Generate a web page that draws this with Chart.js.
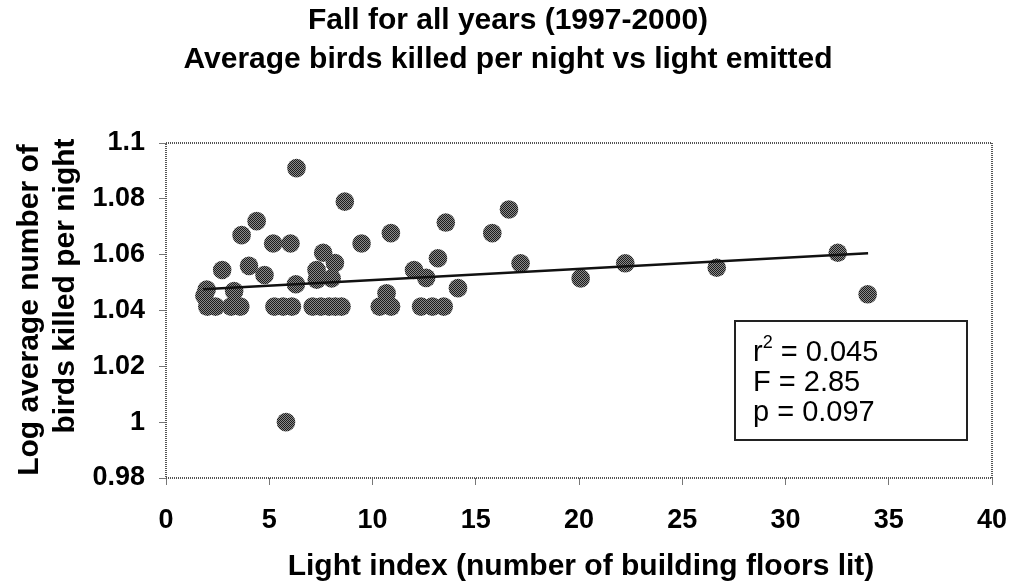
<!DOCTYPE html>
<html>
<head>
<meta charset="utf-8">
<script src="https://cdn.jsdelivr.net/npm/chart.js@4.4.1/dist/chart.umd.min.js"></script>
<style>
  html, body { margin: 0; padding: 0; background: #ffffff; }
  #wrap { width: 1015px; height: 587px; position: relative; }
</style>
</head>
<body>
<div id="wrap"><canvas id="c" width="1015" height="587"></canvas></div>
<script>
// ---- Data ----
const titleLines = ["Fall for all years (1997-2000)", "Average birds killed per night vs light emitted"];
const xAxisTitle = "Light index (number of building floors lit)";
const yAxisTitleLines = ["Log average number of", "birds killed per night"];
const statsLines = ["r", "F = 2.85", "p = 0.097"];
const xTickLabels = ["0", "5", "10", "15", "20", "25", "30", "35", "40"];
const yTickLabels = ["0.98", "1", "1.02", "1.04", "1.06", "1.08", "1.1"];

const lightIndex = [
  2.0, 2.4, 3.15, 3.6, 5.25, 5.67, 6.1, 7.1, 7.5, 7.9, 8.2, 8.5, 10.35, 10.9, 12.35, 12.9, 13.45,
  1.86, 1.97, 3.3,
  6.32, 8.66, 4.39, 3.66, 5.19, 6.03, 9.47, 2.72, 4.02, 4.77,
  7.61, 8.18, 7.29, 8.02, 7.3, 6.29, 10.89, 13.55, 16.61, 15.8,
  13.17, 17.17, 12.01, 12.6, 14.14, 10.68, 20.08, 22.24, 26.67, 32.53,
  33.98, 5.81
];
const logBirds = [
  1.0414, 1.0414, 1.0414, 1.0414, 1.0414, 1.0414, 1.0414, 1.0414, 1.0414, 1.0414, 1.0414, 1.0414, 1.0414, 1.0414, 1.0414, 1.0414, 1.0414,
  1.0453, 1.0475, 1.047,
  1.091, 1.079, 1.072, 1.067, 1.064, 1.064, 1.064, 1.0545, 1.056, 1.0527,
  1.0607, 1.057, 1.0545, 1.0515, 1.051, 1.0494, 1.0677, 1.0715, 1.0762, 1.0677,
  1.0587, 1.0569, 1.0545, 1.0517, 1.048, 1.0462, 1.0515, 1.0569, 1.0553, 1.0607,
  1.0458, 1.0
];
const trendX = [1.8, 34.0];
const trendY = [1.0476, 1.0605];

// ---- Build library structures ----
const points = lightIndex.map((x, i) => ({ x: x, y: logBirds[i] }));
const trend = trendX.map((x, i) => ({ x: x, y: trendY[i] }));

// halftone-like fill for markers
const pc = document.createElement('canvas');
pc.width = 2; pc.height = 2;
const pctx = pc.getContext('2d');
pctx.fillStyle = '#1c1c1c'; pctx.fillRect(0, 0, 2, 2);
pctx.fillStyle = '#8a8a8a'; pctx.fillRect(1, 0, 1, 1); pctx.fillRect(0, 1, 1, 1);
const dotPattern = pctx.createPattern(pc, 'repeat');

const BOLD = 'bold 30px "Liberation Sans", Arial, sans-serif';

const decorPlugin = {
  id: 'decor',
  beforeDatasetsDraw(chart) {
    const { ctx, chartArea: a } = chart;
    ctx.save();
    ctx.strokeStyle = '#555';
    ctx.lineWidth = 2;
    ctx.setLineDash([1, 1]);
    ctx.strokeRect(a.left, a.top, a.right - a.left, a.bottom - a.top);
    ctx.restore();
  },
  afterDraw(chart) {
    const { ctx } = chart;
    ctx.save();
    ctx.fillStyle = '#000';
    ctx.font = BOLD;
    ctx.textAlign = 'center';
    ctx.textBaseline = 'middle';
    ctx.fillText(titleLines[0], 508, 21);
    ctx.fillText(titleLines[1], 508, 60);
    ctx.fillText(xAxisTitle, 581, 567);
    // y title, rotated
    ctx.save();
    ctx.translate(30, 310);
    ctx.rotate(-Math.PI / 2);
    ctx.fillText(yAxisTitleLines[0], 0, 0);
    ctx.restore();
    ctx.save();
    ctx.translate(66, 286);
    ctx.rotate(-Math.PI / 2);
    ctx.fillText(yAxisTitleLines[1], 0, 0);
    ctx.restore();

    // stats box
    ctx.fillStyle = '#fff';
    ctx.fillRect(735, 321, 232, 119);
    ctx.strokeStyle = '#222';
    ctx.lineWidth = 2;
    ctx.strokeRect(735, 321, 232, 119);
    ctx.fillStyle = '#000';
    ctx.textAlign = 'left';
    ctx.textBaseline = 'alphabetic';
    const REG = '29px "Liberation Sans", Arial, sans-serif';
    ctx.font = REG;
    const x0 = 753;
    ctx.fillText(statsLines[0], x0, 361);
    const w = ctx.measureText(statsLines[0]).width;
    ctx.font = '18px "Liberation Sans", Arial, sans-serif';
    ctx.fillText('2', x0 + w, 348);
    const w2 = ctx.measureText('2').width;
    ctx.font = REG;
    ctx.fillText(' = 0.045', x0 + w + w2, 361);
    ctx.fillText(statsLines[1], x0, 391);
    ctx.fillText(statsLines[2], x0, 421);
    ctx.restore();
  }
};

new Chart(document.getElementById('c'), {
  type: 'scatter',
  data: {
    datasets: [
      {
        type: 'line',
        data: trend,
        borderColor: '#111',
        borderWidth: 2.5,
        pointRadius: 0,
        showLine: true,
        fill: false
      },
      {
        data: points,
        pointRadius: 9.3,
        pointHoverRadius: 9.3,
        pointBackgroundColor: dotPattern,
        pointBorderWidth: 0,
        borderWidth: 0
      }
    ]
  },
  options: {
    responsive: false,
    devicePixelRatio: 1,
    animation: false,
    events: [],
    layout: { padding: { top: 143, right: 23, left: 0, bottom: 0 } },
    plugins: { legend: { display: false }, tooltip: { enabled: false }, title: { display: false } },
    scales: {
      x: {
        type: 'linear',
        min: 0, max: 40,
        afterFit(s) { s.height = 109; s.paddingLeft = 0; s.paddingRight = 0; },
        afterBuildTicks(s) { s.ticks = xTickLabels.map(v => ({ value: Number(v) })); },
        ticks: {
          callback: (v, i) => xTickLabels[i],
          font: { family: '"Liberation Sans", Arial, sans-serif', size: 27, weight: 'bold' },
          color: '#000',
          padding: 19,
          maxRotation: 0,
          autoSkip: false
        },
        grid: { drawOnChartArea: false, drawTicks: true, tickLength: 7, color: '#777', lineWidth: 1 },
        border: { display: false }
      },
      y: {
        type: 'linear',
        min: 0.98, max: 1.1,
        afterFit(s) { s.width = 166; s.paddingTop = 0; s.paddingBottom = 0; },
        afterBuildTicks(s) { s.ticks = yTickLabels.map(v => ({ value: Number(v) })); },
        ticks: {
          callback: (v, i) => yTickLabels[i],
          font: { family: '"Liberation Sans", Arial, sans-serif', size: 27, weight: 'bold' },
          color: '#000',
          padding: 14,
          autoSkip: false
        },
        grid: { drawOnChartArea: false, drawTicks: true, tickLength: 7, color: '#777', lineWidth: 1 },
        border: { display: false }
      }
    }
  },
  plugins: [decorPlugin]
});
</script>
</body>
</html>
